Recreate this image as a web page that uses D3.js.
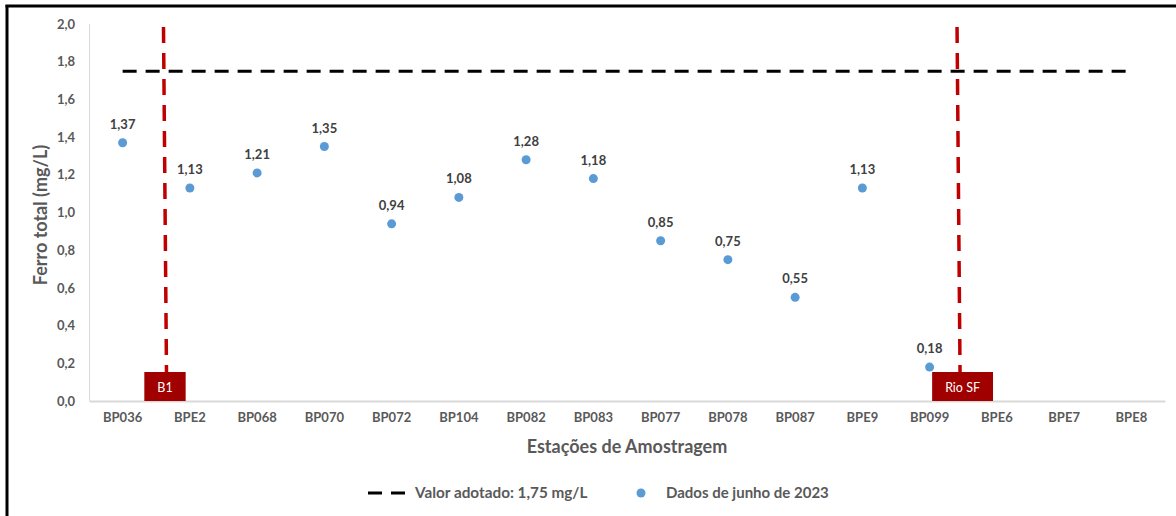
<!DOCTYPE html>
<html><head><meta charset="utf-8">
<script src="https://cdn.jsdelivr.net/npm/d3@7"></script>
<style>body{margin:0;background:#fff}svg{display:block}text{font-family:Lato,"Open Sans",sans-serif}</style>
</head><body><svg id="c" width="1176" height="516"></svg>
<script>
const categories = ["BP036","BPE2","BP068","BP070","BP072","BP104","BP082","BP083","BP077","BP078","BP087","BPE9","BP099","BPE6","BPE7","BPE8"];
const values = [1.37,1.13,1.21,1.35,0.94,1.08,1.28,1.18,0.85,0.75,0.55,1.13,0.18,null,null,null];
const yTicks = [0,0.2,0.4,0.6,0.8,1.0,1.2,1.4,1.6,1.8,2.0];
const limitValue = 1.75;
const markers = [{label:"B1", after:"BP036", frac:0.63, boxFrac:0.0},{label:"Rio SF", after:"BP099", frac:0.43, boxFrac:0.06}];

const svg = d3.select("#c");
const fmt = v => d3.format(".1f")(v).replace(".", ",");
const fmt2 = v => d3.format(".2f")(v).replace(".", ",");

const x = d3.scaleBand().domain(categories).range([89,1165]);
const y = d3.scaleLinear().domain([0,2]).range([401,24]);

// frame
svg.append("line").attr("x1",7).attr("x2",7).attr("y1",5).attr("y2",516).attr("stroke","#000").attr("stroke-width",3);
svg.append("line").attr("x1",5.5).attr("x2",1176).attr("y1",6).attr("y2",6).attr("stroke","#000").attr("stroke-width",3);

// y axis line
svg.append("line").attr("x1",89.5).attr("x2",89.5).attr("y1",y(2)).attr("y2",y(0)).attr("stroke","#d9d9d9").attr("stroke-width",1);

const yAxis = d3.axisLeft(y).tickValues(yTicks).tickFormat(fmt).tickSize(0).tickPadding(14);
const gy = svg.append("g").attr("transform","translate(89,0)").call(yAxis);
gy.select(".domain").remove();
gy.selectAll("text").attr("font-size",13).attr("font-weight","bold").attr("fill","#595959");

const xAxis = d3.axisBottom(x).tickSize(0).tickPadding(12);
const gx = svg.append("g").attr("transform","translate(0,401)").call(xAxis);
gx.select(".domain").attr("stroke","#d9d9d9").attr("stroke-width",2);
gx.selectAll("text").attr("font-size",13).attr("font-weight","bold").attr("fill","#595959");

// limit line
svg.append("line").attr("x1",x(categories[0])+x.bandwidth()/2).attr("x2",x(categories[categories.length-1])+x.bandwidth()/2)
  .attr("y1",y(limitValue)).attr("y2",y(limitValue)).attr("stroke","#000").attr("stroke-width",3).attr("stroke-dasharray","14,9");

// markers
markers.forEach(m => {
  const cx = x(m.after) + x.bandwidth()/2 + m.frac*x.step();
  svg.append("line").attr("x1",cx-1.5).attr("x2",cx+1.5).attr("y1",27).attr("y2",372)
    .attr("stroke","#c00000").attr("stroke-width",3.5).attr("stroke-dasharray","16,10");
  const bx = cx + m.boxFrac*x.step();
  const rect = svg.append("rect").attr("y",372).attr("height",29).attr("fill","#a00000");
  const t = svg.append("text").attr("x",bx).attr("y",392).attr("text-anchor","middle")
    .attr("font-size",12.5).attr("fill","#fff").text(m.label);
  const w = t.node().getComputedTextLength() + 26;
  rect.attr("x",bx-w/2).attr("width",w);
});

// points
const pts = categories.map((c,i)=>({c,v:values[i]})).filter(d=>d.v!==null);
svg.selectAll("circle.p").data(pts).join("circle").attr("class","p")
  .attr("cx",d=>x(d.c)+x.bandwidth()/2).attr("cy",d=>y(d.v)).attr("r",4.5).attr("fill","#5b9bd5");
svg.selectAll("text.lbl").data(pts).join("text").attr("class","lbl")
  .attr("x",d=>x(d.c)+x.bandwidth()/2).attr("y",d=>y(d.v)-14).attr("text-anchor","middle")
  .attr("font-size",13).attr("font-weight","bold").attr("fill","#404040").text(d=>fmt2(d.v));

// axis titles
svg.append("text").attr("transform","translate(47,215) rotate(-90)").attr("text-anchor","middle")
  .attr("font-size",18).attr("font-weight","bold").attr("fill","#595959").text("Ferro total (mg/L)");
svg.append("text").attr("x",627).attr("y",453).attr("text-anchor","middle")
  .attr("font-size",18).attr("font-weight","bold").attr("fill","#595959").text("Estações de Amostragem");

// legend
svg.append("line").attr("x1",368).attr("x2",405).attr("y1",493).attr("y2",493).attr("stroke","#000").attr("stroke-width",3).attr("stroke-dasharray","14,9");
svg.append("text").attr("x",415).attr("y",498).attr("font-size",15.3).attr("font-weight","bold").attr("fill","#595959").text("Valor adotado: 1,75 mg/L");
svg.append("circle").attr("cx",641).attr("cy",493).attr("r",4.5).attr("fill","#5b9bd5");
svg.append("text").attr("x",666).attr("y",498).attr("font-size",15).attr("font-weight","bold").attr("fill","#595959").text("Dados de junho de 2023");
</script></body></html>
